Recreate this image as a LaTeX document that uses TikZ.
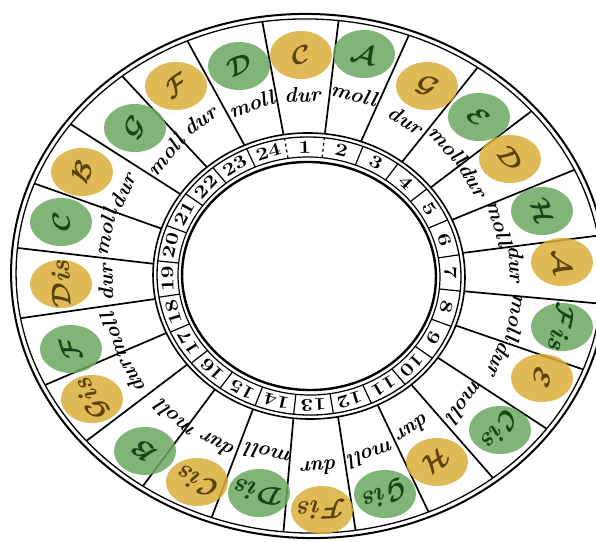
\documentclass[tikz,border=0pt]{standalone}
\usetikzlibrary{calc}
\definecolor{yel}{RGB}{218,174,58}
\definecolor{grn}{RGB}{108,168,96}
\definecolor{yeltxt}{RGB}{90,66,8}
\definecolor{grntxt}{RGB}{22,70,22}
\begin{document}
\begin{tikzpicture}[x=1pt,y=-1pt,
  rings/.style={shift={(309,276)}, rotate=-2.5},
  spoke/.style={line width=1.7pt},
  numfont/.style={font=\fontsize{18}{18}\selectfont\bfseries, inner sep=0pt},
  keyfont/.style={inner sep=0pt},
  labfont/.style={font=\fontsize{21}{21}\selectfont\bfseries\itshape, inner sep=0pt}]
\clip (0,0) rectangle (596,541);
\fill[white] (0,0) rectangle (596,541);
% sector dividers of the outer ring
\begin{scope}[even odd rule]
\clip (309,276) ellipse [x radius=293pt, y radius=257pt, rotate=-2.5]
      (309,276) ellipse [x radius=156pt, y radius=143pt, rotate=-2.5];
\foreach \ax/\ay/\bx/\by in {283/132/262/20, 325/133/339/17, 363/137/409/35,
  406/157/478/67, 434/185/529/113, 459/217/569/172, 470/252/587/237,
  472/292/593/303, 463/328/576/367, 446/363/544/427, 416/390/493/478,
  381/412/429/513, 339/423/356/533, 293/423/283/537, 250/417/208/527,
  207/400/140/490, 180/370/85/442, 157/337/45/385, 148/300/22/318,
  147/263/18/248, 157/227/33/183, 177/192/72/125, 203/163/123/77,
  240/137/188/42}
  \draw[spoke] ($(\ax,\ay)!-0.4!(\bx,\by)$) -- ($(\ax,\ay)!1.4!(\bx,\by)$);
\end{scope}
% ring outlines
\draw[rings, line width=2pt] (0,0) ellipse [x radius=298pt, y radius=262pt];
\draw[rings, line width=1.3pt] (0,0) ellipse [x radius=293pt, y radius=257pt];
\draw[rings, line width=1.6pt] (0,0) ellipse [x radius=156pt, y radius=143pt];
\draw[rings, line width=1.3pt] (0,0) ellipse [x radius=152pt, y radius=139pt];
\draw[rings, line width=1.2pt] (0,0) ellipse [x radius=131pt, y radius=119pt];
\draw[rings, line width=2.4pt] (0,0) ellipse [x radius=127pt, y radius=114pt];
% number ring
\begin{scope}[rings]
\foreach \k in {0,...,23} {
  \pgfmathsetmacro\t{101.5-15*\k}
  \ifnum\k<2
    \draw[line width=1.2pt, dashed] (\t:131pt and 119pt) -- (\t:152pt and 139pt);
  \else
    \draw[line width=1.2pt] (\t:131pt and 119pt) -- (\t:152pt and 139pt);
  \fi
}
\foreach \n in {1,...,24} {
  \pgfmathsetmacro\t{94-15*(\n-1)}
  \pgfmathsetmacro\r{\t-92.5}
  \node[numfont, rotate=\r] (n\n) at (\t:141.5pt and 129pt) {\scalebox{1.25}[1]{\n}};
}
\end{scope}
% keys
\foreach \x/\y/\kc/\L/\s/\lab [count=\i] in {
  301/55/yel/C//dur, 364/54/grn/A//moll, 427/86/yel/G//dur, 479/117/grn/E//moll,
  510/159/yel/D//dur, 542/211/grn/H//moll, 562/262/yel/A//dur, 562/327/grn/F/is/moll,
  542/378/yel/E//dur, 500/430/grn/C/is/moll, 437/462/yel/H//dur, 385/494/grn/G/is/moll,
  322/510/yel/F/is/dur, 259/493/grn/D/is/moll, 197/482/yel/C/is/dur, 145/451/grn/B//moll,
  92/399/yel/G/is/dur, 71/349/grn/F//moll, 61/284/yel/D/is/dur, 61/222/grn/C//moll,
  82/172/yel/B//dur, 135/128/grn/G//moll, 176/86/yel/F//dur, 239/66/grn/D//moll} {
  \pgfmathsetmacro\ang{atan2(276-\y,\x-309)-90}
  \fill[\kc, fill opacity=.85] (\x,\y) ellipse [x radius=31pt, y radius=24pt];
  \node[keyfont, rotate=\ang, text=\kc txt] (k\i) at (\x,\y) {\scalebox{2.7}{\boldmath$\mathcal{\L}$\textbf{\textit{\s}}}};
  \pgfmathsetmacro\lx{309+0.82*(\x-309)}
  \pgfmathsetmacro\ly{276+0.82*(\y-276)}
  \node[labfont, rotate=\ang] (l\i) at (\lx,\ly) {\lab};
}
\end{tikzpicture}
\end{document}
